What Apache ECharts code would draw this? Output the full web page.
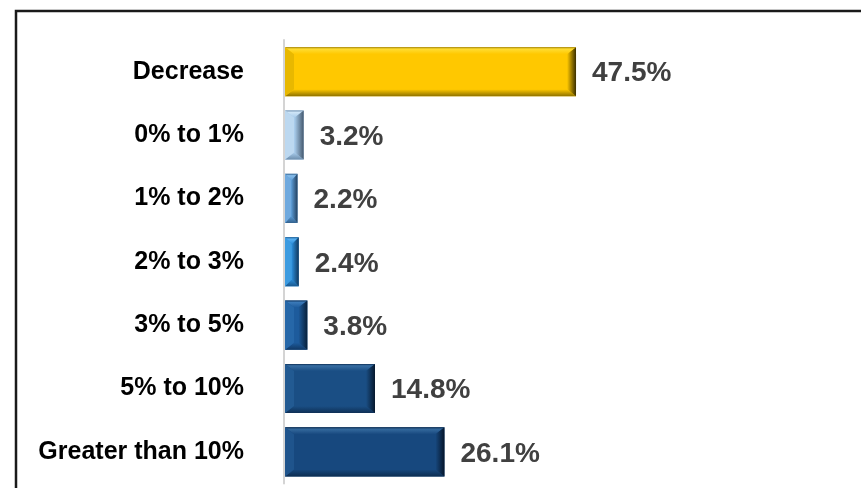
<!DOCTYPE html>
<html>
<head>
<meta charset="utf-8">
<script src="https://cdn.jsdelivr.net/npm/echarts@6/dist/echarts.min.js"></script>
<style>
html,body{margin:0;padding:0;background:#fff;}
#chart{width:861px;height:488px;}
</style>
</head>
<body>
<div id="chart"></div>
<script>
var categories = ['Decrease', '0% to 1%', '1% to 2%', '2% to 3%', '3% to 5%', '5% to 10%', 'Greater than 10%'];
var values = [47.5, 3.2, 2.2, 2.4, 3.8, 14.8, 26.1];
var valueLabels = ['47.5%', '3.2%', '2.2%', '2.4%', '3.8%', '14.8%', '26.1%'];

// facet colours per bar: main, top, bottom, left, right
var palette = [
  {main:'#FFC800', top:'#FFDD33', bottom:'#8E7200', left:'#E8B800', right:'#3A2F00'},
  {main:'#A8CBEA', top:'#CFE5F7', bottom:'#6C8DAC', left:'#BCD8F0', right:'#44586E'},
  {main:'#5B9BD5', top:'#86BCEA', bottom:'#33628F', left:'#6FA9DE', right:'#22405F'},
  {main:'#2A8CD8', top:'#58B0F2', bottom:'#19588E', left:'#3C9BE0', right:'#10375C'},
  {main:'#1D5B9C', top:'#3A79B8', bottom:'#113864', left:'#2667A8', right:'#08203A'},
  {main:'#1A4E84', top:'#386EA3', bottom:'#0E2F55', left:'#225A92', right:'#06182D'},
  {main:'#17487E', top:'#34699D', bottom:'#0D2D51', left:'#1F548C', right:'#05152A'}
];

var chart = echarts.init(document.getElementById('chart'), null, {renderer:'canvas'});

var seriesData = values.map(function(v, i){ return [v, i]; });

function renderItem(params, api) {
  var idx = api.value(1);
  var val = api.value(0);
  var p0 = api.coord([0, idx]);
  var p1 = api.coord([val, idx]);
  var band = api.size([0, 1])[1];
  var h = band * 0.775;
  var x0 = p0[0] + 1, x1 = p1[0];
  var y0 = p0[1] - h / 2, y1 = p0[1] + h / 2;
  var w = x1 - x0;
  var bx = Math.min(9, w / 2);
  var by = 7;
  var c = palette[idx];
  var children = [
    {type:'rect', shape:{x:x0, y:y0, width:w, height:h}, style:{fill:c.main}},
    {type:'polygon', shape:{points:[[x0,y0],[x1,y0],[x1-bx,y0+by],[x0+bx,y0+by]]},
      style:{fill:new echarts.graphic.LinearGradient(0,0,0,1,[{offset:0,color:c.bottom},{offset:0.25,color:c.top},{offset:1,color:c.main}])}},
    {type:'polygon', shape:{points:[[x0,y1],[x1,y1],[x1-bx,y1-by],[x0+bx,y1-by]]},
      style:{fill:new echarts.graphic.LinearGradient(0,0,0,1,[{offset:0,color:c.main},{offset:1,color:c.bottom}])}},
    {type:'polygon', shape:{points:[[x0,y0],[x0+bx,y0+by],[x0+bx,y1-by],[x0,y1]]},
      style:{fill:c.left}},
    {type:'polygon', shape:{points:[[x1,y0],[x1-bx,y0+by],[x1-bx,y1-by],[x1,y1]]},
      style:{fill:new echarts.graphic.LinearGradient(0,0,1,0,[{offset:0,color:c.main},{offset:1,color:c.right}])}},
    {type:'text', x: x1 + 16, y: p0[1] + 2,
      style:{text: valueLabels[idx], fill:'#404040', font:'bold 28px "Liberation Sans", Arial, sans-serif',
        verticalAlign:'middle', align:'left'}}
  ];
  return {type:'group', children: children};
}

var option = {
  animation: false,
  backgroundColor: '#ffffff',
  graphic: [
    {type:'polyline', shape:{points:[[16,490],[16,11],[870,11]]},
      style:{stroke:'#1a1a1a', lineWidth:2.5, fill:null}, z:100}
  ],
  grid: {left: 284, top: 40, width: 307.4, height: 443.6, containLabel:false},
  xAxis: {type:'value', min:0, max:50, show:false},
  yAxis: {
    type:'category', data: categories, inverse: true,
    axisLine:{show:true, lineStyle:{color:'#d4d4d4', width:2}},
    axisTick:{show:false},
    splitLine:{show:false},
    axisLabel:{color:'#000', fontWeight:'bold', fontSize:25, margin:40,
      fontFamily:'"Liberation Sans", Arial, sans-serif'}
  },
  series: [{
    type:'custom',
    renderItem: renderItem,
    data: seriesData,
    encode:{x:0, y:1},
    clip:false
  }]
};
chart.setOption(option);
</script>
</body>
</html>
